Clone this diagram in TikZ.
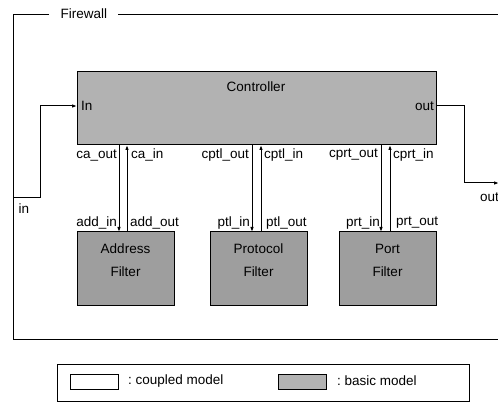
\documentclass[tikz,border=0pt]{standalone}
\usepackage{fontspec}
\setmainfont{Liberation Sans}
\usetikzlibrary{arrows.meta}

\tikzset{
  txt/.style={inner sep=0pt, font=\fontsize{13.5}{15}\selectfont},
  basic/.style={draw, line width=1pt, fill=black!30, inner sep=0pt, outer sep=0pt, anchor=north west},
  filterbox/.style={basic, fill=black!38, minimum width=97pt, minimum height=74pt},
  coupled/.style={draw, line width=0.9pt, fill=white, inner sep=0pt, outer sep=0pt, anchor=north west},
  wire/.style={line width=0.9pt},
  flow/.style={line width=1pt, -{Latex[length=5pt,width=3.6pt]}},
}

\begin{document}
\begin{tikzpicture}[x=1pt,y=-1pt]
\useasboundingbox (0,0) rectangle (498,403);
\clip (0,0) rectangle (498,403);

% Firewall coupled model frame
\draw[wire] (49,14) -- (13,14) -- (13,339) -- (505,339);
\draw[wire] (118,14) -- (505,14);
\node[txt] (fwlabel) at (84,14) {Firewall};

% Controller
\node[basic, minimum width=359pt, minimum height=73pt] (ctrl) at (77,72) {};
\node[txt] (ctrltitle) at (256,87) {Controller};
\node[txt, anchor=west] (ctrlinlbl) at (81,106) {In};
\node[txt, anchor=east] (ctrloutlbl) at (434,106) {out};

% Filters
\node[filterbox] (addr) at (77,232) {};
\node[filterbox] (proto) at (210,232) {};
\node[filterbox] (port) at (339,232) {};
\node[txt] (addrA) at (addr.north |- 0,249) {Address};
\node[txt] (addrB) at (addr.north |- 0,272) {Filter};
\node[txt] (protoA) at (proto.north |- 0,249) {Protocol};
\node[txt] (protoB) at (proto.north |- 0,272) {Filter};
\node[txt] (portA) at (port.north |- 0,249) {Port};
\node[txt] (portB) at (port.north |- 0,272) {Filter};

% Port columns
\coordinate (caout) at (119,0);
\coordinate (cain) at (127,0);
\coordinate (cptlout) at (252,0);
\coordinate (cptlin) at (261,0);
\coordinate (cprtout) at (381,0);
\coordinate (cprtin) at (390,0);

% Controller <-> filter couplings
\draw[flow] (caout |- ctrl.south) -- (caout |- addr.north);
\draw[flow] (cain |- addr.north) -- (cain |- ctrl.south);
\draw[flow] (cptlout |- ctrl.south) -- (cptlout |- proto.north);
\draw[flow] (cptlin |- proto.north) -- (cptlin |- ctrl.south);
\draw[flow] (cprtout |- ctrl.south) -- (cprtout |- port.north);
\draw[flow] (cprtin |- port.north) -- (cprtin |- ctrl.south);

% Port names
\node[txt, anchor=east] (l1) at (117,155) {ca\_out};
\node[txt, anchor=west] (l2) at (131,155) {ca\_in};
\node[txt, anchor=east] (l3) at (249,155) {cptl\_out};
\node[txt, anchor=west] (l4) at (264,155) {cptl\_in};
\node[txt, anchor=east] (l5) at (378,155) {cprt\_out};
\node[txt, anchor=west] (l6) at (393,155) {cprt\_in};
\node[txt, anchor=east] (l7) at (117,223) {add\_in};
\node[txt, anchor=west] (l8) at (130,223) {add\_out};
\node[txt, anchor=east] (l9) at (250,223) {ptl\_in};
\node[txt, anchor=west] (l10) at (266,223) {ptl\_out};
\node[txt, anchor=east] (l11) at (380,223) {prt\_in};
\node[txt, anchor=west] (l12) at (396,223) {prt\_out};

% External input and output couplings
\coordinate (fwin) at (13,198);
\coordinate (inbend) at (40,198);
\coordinate (ctrlin) at (77,106);
\coordinate (ctrlout) at (436,106);
\coordinate (outbend) at (464,183);
\coordinate (fwout) at (499,183);
\draw[flow] (fwin) -- (inbend) |- (ctrlin);
\draw[flow] (ctrlout) -| (outbend) -- (fwout);
\node[txt] (inlbl) at (24,209) {in};
\node[txt, anchor=west] (outlbl) at (480,197) {out};

% Legend
\node[coupled, line width=1pt, minimum width=412pt, minimum height=37pt] (legend) at (57,364) {};
\node[coupled, minimum width=48pt, minimum height=15pt] (keycoupled) at (70,374) {};
\node[txt, anchor=west] (keycoupledlbl) at (128,381) {:\ coupled model};
\node[basic, line width=0.9pt, minimum width=48pt, minimum height=15pt] (keybasic) at (278,374) {};
\node[txt, anchor=west] (keybasiclbl) at (337,381) {:\ basic model};
\end{tikzpicture}
\end{document}
